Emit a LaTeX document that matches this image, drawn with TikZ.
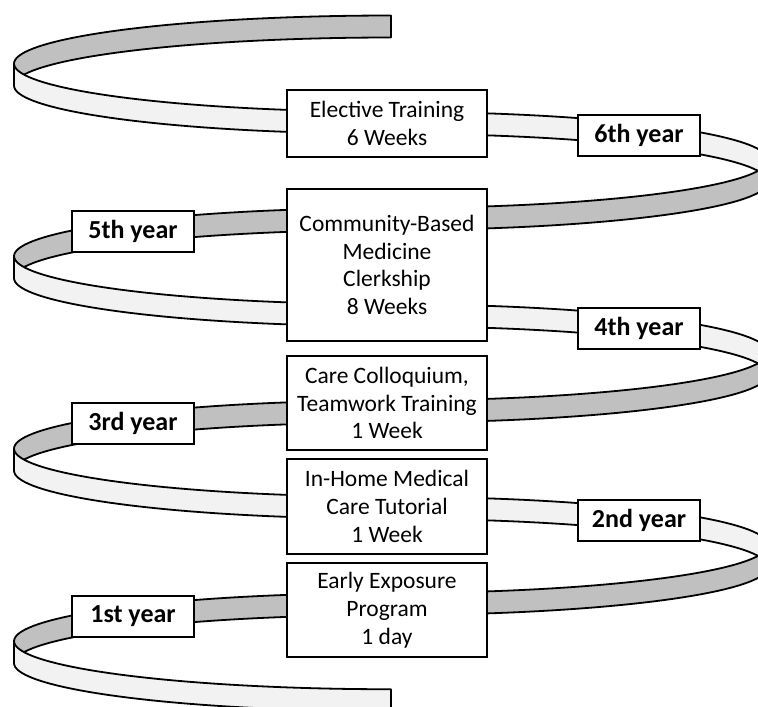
\documentclass[tikz,border=0pt]{standalone}
\usepackage{fontspec}
\setmainfont{Carlito}
\definecolor{backgray}{RGB}{192,192,192}
\definecolor{frontgray}{RGB}{242,242,242}
\tikzset{
  backpart/.style={draw, line width=1.8pt, line join=round, fill=backgray},
  frontpart/.style={draw, line width=1.8pt, line join=round, fill=frontgray},
  stagebox/.style={draw, line width=2pt, fill=white, align=center,
    minimum width=200pt, inner sep=0pt, font=\fontsize{23.5}{27.8}\selectfont},
  yearbox/.style={draw, line width=2pt, fill=white, minimum width=122pt,
    minimum height=41pt, inner sep=0pt, font=\fontsize{26}{30}\selectfont\bfseries}
}

\begin{document}
\begin{tikzpicture}[x=1pt,y=-1pt]
    \useasboundingbox (0,0) rectangle (758,707);
    \fill[white] (0,0) rectangle (758,707);
    \begin{scope}
    \clip (0,0) rectangle (758,707);
    % ribbon: one turn per pass, top to bottom
    \foreach \n in {0,...,3}{
      \pgfmathsetmacro\B{26.5+192.5*\n}
      % back half (inner side)
      \ifnum\n=0
        \draw[backpart] plot[domain=90:180,samples=40] ({391+377*cos(\x)},{\B+37.125-48.125*sin(\x)})
          -- plot[domain=180:90,samples=40] ({391+377*cos(\x)},{\B+59.125-48.125*sin(\x)}) -- cycle;
      \else
        \draw[backpart] plot[domain=0:90,samples=40] ({391+377*cos(\x)},{\B-59.125+48.125*sin(\x)})
          -- plot[domain=90:180,samples=40] ({391+377*cos(\x)},{\B+37.125-48.125*sin(\x)})
          -- plot[domain=180:90,samples=40] ({391+377*cos(\x)},{\B+59.125-48.125*sin(\x)})
          -- plot[domain=90:0,samples=40] ({391+377*cos(\x)},{\B-37.125+48.125*sin(\x)}) -- cycle;
      \fi
      % front half (outer side)
      \ifnum\n=3
        \draw[frontpart] plot[domain=180:90,samples=40] ({391+377*cos(\x)},{\B+37.125+48.125*sin(\x)})
          -- plot[domain=90:180,samples=40] ({391+377*cos(\x)},{\B+59.125+48.125*sin(\x)}) -- cycle;
      \else
        \draw[frontpart] plot[domain=180:90,samples=40] ({391+377*cos(\x)},{\B+37.125+48.125*sin(\x)})
          -- plot[domain=90:0,samples=40] ({391+377*cos(\x)},{\B+133.375-48.125*sin(\x)})
          -- plot[domain=0:90,samples=40] ({391+377*cos(\x)},{\B+155.375-48.125*sin(\x)})
          -- plot[domain=90:180,samples=40] ({391+377*cos(\x)},{\B+59.125+48.125*sin(\x)}) -- cycle;
      \fi
    }
    \end{scope}
    % stages
    \node[stagebox, minimum height=67pt] (elective) at (387,123.5) {Elective Training\\6 Weeks};
    \node[stagebox, minimum height=152pt] (community) at (387,265) {Community-Based\\Medicine\\Clerkship\\8 Weeks};
    \node[stagebox, minimum height=94pt] (colloquium) at (387,403) {Care Colloquium,\\Teamwork Training\\1 Week};
    \node[stagebox, minimum height=95pt] (inhome) at (387,506.5) {In-Home Medical\\Care Tutorial\\1 Week};
    \node[stagebox, minimum height=94pt] (exposure) at (387,610) {Early Exposure\\Program\\1 day};
    % years
    \node[yearbox] (year6) at (639,135.5) {6th year};
    \node[yearbox] (year5) at (133,231.5) {5th year};
    \node[yearbox] (year4) at (639,328) {4th year};
    \node[yearbox] (year3) at (133,423.5) {3rd year};
    \node[yearbox] (year2) at (639,520) {2nd year};
    \node[yearbox] (year1) at (133,616.5) {1st year};
\end{tikzpicture}
\end{document}
